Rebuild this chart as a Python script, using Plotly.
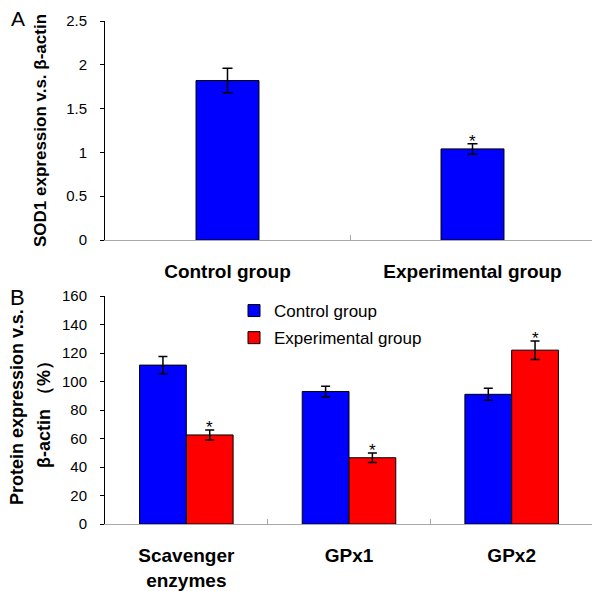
import plotly.graph_objects as go

# ---------------- data ----------------
a_categories = ["Control group", "Experimental group"]
a_values = [1.82, 1.04]
a_errors = [0.14, 0.06]
a_signif = [False, True]

b_categories = ["Scavenger<br>enzymes", "GPx1", "GPx2"]
b_control = [111.5, 93.0, 91.0]
b_control_err = [6.0, 3.7, 4.2]
b_exper = [62.5, 46.5, 122.0]
b_exper_err = [3.5, 3.3, 6.5]
b_exper_signif = [True, True, True]

a_yticks = [0, 0.5, 1, 1.5, 2, 2.5]
a_yticklabels = ["0", "0.5", "1", "1.5", "2", "2.5"]
b_yticks = [0, 20, 40, 60, 80, 100, 120, 140, 160]

BLUE = "#0000FF"
RED = "#FF0000"
FONT = "Arial, Liberation Sans, sans-serif"

A_BARWIDTH = 0.257
B_BARGAP = 0.425

fig = go.Figure()

fig.add_trace(go.Bar(
    x=a_categories, y=a_values, width=A_BARWIDTH,
    marker=dict(color=BLUE, line=dict(color="#000000", width=1)),
    error_y=dict(type="data", array=a_errors, color="#000000", thickness=1.5, width=5),
    xaxis="x", yaxis="y", showlegend=False,
))

fig.add_trace(go.Bar(
    name="Control group", x=b_categories, y=b_control, legendgroup="c",
    marker=dict(color=BLUE, line=dict(color="#000000", width=1)),
    error_y=dict(type="data", array=b_control_err, color="#000000", thickness=1.5, width=4.5),
    xaxis="x2", yaxis="y2",
))
fig.add_trace(go.Bar(
    name="Experimental group", x=b_categories, y=b_exper, legendgroup="e",
    marker=dict(color=RED, line=dict(color="#000000", width=1)),
    error_y=dict(type="data", array=b_exper_err, color="#000000", thickness=1.5, width=4.5),
    xaxis="x2", yaxis="y2",
))

# page body margin offset (the figure sits 8px in from the window corner)
OFF = 8
W, H = 600 - OFF, 591 - OFF
ML, MR, MT = 105 - OFF, 5, 21 - OFF
MB = H - (524 - OFF)
PW = W - ML - MR
PH = H - MT - MB

def py(px):
    # screen pixel y -> paper y
    return (H - MB - (px - OFF)) / PH

def pxp(x):
    # screen pixel x -> paper x
    return (x - OFF - ML) / PW

annotations = []
# significance asterisks
for i, (v, e, s) in enumerate(zip(a_values, a_errors, a_signif)):
    if s:
        annotations.append(dict(x=i, y=v + e, xref="x", yref="y", text="*", showarrow=False,
                                yanchor="bottom", yshift=-9, font=dict(family=FONT, size=17, color="#000")))
half = (1 - B_BARGAP) / 4
for i, (v, e, s) in enumerate(zip(b_exper, b_exper_err, b_exper_signif)):
    if s:
        annotations.append(dict(x=i + half, y=v + e, xref="x2", yref="y2", text="*", showarrow=False,
                                yanchor="bottom", yshift=-9, font=dict(family=FONT, size=17, color="#000")))

# panel letters
annotations.append(dict(x=pxp(18), y=py(19), xref="paper", yref="paper", text="A", showarrow=False,
                        xanchor="center", yanchor="middle", font=dict(family=FONT, size=21, color="#000")))
annotations.append(dict(x=pxp(17), y=py(297), xref="paper", yref="paper", text="B", showarrow=False,
                        xanchor="center", yanchor="middle", font=dict(family=FONT, size=22, color="#000")))

# axis titles
annotations.append(dict(x=pxp(40), y=py(131), xref="paper", yref="paper",
                        text="<b>SOD1 expression v.s. β-actin</b>", textangle=-90, showarrow=False,
                        xanchor="center", yanchor="middle", font=dict(family=FONT, size=17, color="#000")))
annotations.append(dict(x=pxp(17), y=py(407), xref="paper", yref="paper",
                        text="<b>Protein expression v.s.</b>", textangle=-90, showarrow=False,
                        xanchor="center", yanchor="middle", font=dict(family=FONT, size=18, color="#000")))
annotations.append(dict(x=pxp(44), y=py(410), xref="paper", yref="paper",
                        text="<b>β-actin （%）</b>", textangle=-90, showarrow=False,
                        xanchor="center", yanchor="middle", font=dict(family=FONT, size=18, color="#000")))

xaxis_common = dict(
    type="category", showline=True, linecolor="#A8A8A8", linewidth=1,
    ticks="inside", tickson="boundaries", ticklen=5, tickcolor="#A8A8A8", tickwidth=1,
    tickfont=dict(family=FONT, size=19, color="#000"), showgrid=False, zeroline=False,
    automargin=False,
)
yaxis_common = dict(
    showline=True, linecolor="#000000", linewidth=1,
    ticks="outside", ticklen=4, tickcolor="#000000", tickwidth=1,
    tickfont=dict(family=FONT, size=15, color="#000"), showgrid=False, zeroline=False,
    ticklabelstandoff=10, automargin=False,
)

fig.update_layout(
    width=W, height=H,
    margin=dict(l=ML, r=MR, t=MT, b=MB),
    paper_bgcolor="white", plot_bgcolor="white",
    barmode="group", bargap=B_BARGAP, bargroupgap=0,
    xaxis=dict(domain=[0, 1], anchor="y",
               tickvals=a_categories, ticktext=["<b>%s</b>" % c for c in a_categories],
               range=[-0.5, 1.5], ticklabelstandoff=14, **xaxis_common),
    yaxis=dict(domain=[py(240), 1], anchor="x", range=[0, 2.5],
               tickvals=a_yticks, ticktext=a_yticklabels, **yaxis_common),
    xaxis2=dict(domain=[0, (593 - 105) / PW], anchor="y2",
                tickvals=b_categories, ticktext=["<b>%s</b>" % c for c in b_categories],
                range=[-0.5, 2.5], ticklabelstandoff=14, **xaxis_common),
    yaxis2=dict(domain=[0, py(296)], anchor="x2", range=[0, 160],
                tickvals=b_yticks, **yaxis_common),
    legend=dict(x=pxp(234), y=py(293), xanchor="left", yanchor="top",
                font=dict(family=FONT, size=17, color="#000"),
                bgcolor="rgba(0,0,0,0)", borderwidth=0, traceorder="grouped",
                tracegroupgap=2, itemwidth=30),
    showlegend=True,
    annotations=annotations,
)

fig.write_html("out.html")
